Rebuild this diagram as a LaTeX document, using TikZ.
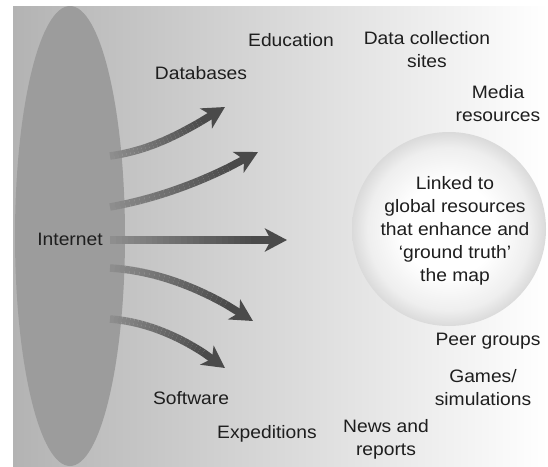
\documentclass[tikz,border=0pt]{standalone}
\usepackage{fontspec}
\setmainfont[FakeStretch=1.07]{Liberation Sans}
\usetikzlibrary{arrows.meta,calc}
\definecolor{bgleft}{HTML}{B3B3B3}
\definecolor{ellfill}{HTML}{9C9C9C}
\definecolor{arrlight}{HTML}{8E8E8E}
\definecolor{arrdark}{HTML}{4A4A4A}
\definecolor{txt}{HTML}{1E1E1E}
\definecolor{rim}{HTML}{DADADA}
\pgfdeclareradialshading{globshade}{\pgfpoint{0bp}{0bp}}{%
  color(0bp)=(white); color(12bp)=(white); color(21bp)=(white!55!rim);
  color(25bp)=(rim); color(50bp)=(rim)}

\newcommand\gradarrow[4]{%
  \path (#1) .. controls (#2) and (#3) .. (#4)
    foreach \k in {0,...,30}{coordinate[pos=\k/30] (q\k)};
  \foreach \k in {0,...,23}{%
    \pgfmathtruncatemacro\m{\k+1}%
    \pgfmathtruncatemacro\c{100-\k*100/24}%
    \draw[shaft, color=arrlight!\c!arrdark] (q\k) -- (q\m);
  }
  \draw[shaft, arrdark, -{Stealth[length=22pt,width=23pt,inset=6pt]}] (q24) -- (q30);
}

\begin{document}
\begin{tikzpicture}[x=1pt,y=-1pt,
  lbl/.style={text=txt, align=center, inner sep=0pt,
    font=\fontsize{18}{23}\selectfont},
  shaft/.style={line width=7.5pt, line cap=butt}]
\useasboundingbox (0,0) rectangle (548,466);
\shade[left color=bgleft, right color=white] (13,6) rectangle (548,466);
\begin{scope}
\clip (13,6) rectangle (548,466);
\fill[ellfill] (70,236) ellipse [x radius=55, y radius=230];
\node[circle, minimum size=194pt, inner sep=0pt, shading=globshade] (glob) at (449,229) {};
\end{scope}

\coordinate (s1) at (110,156); \coordinate (e1) at (225,107);
\coordinate (s2) at (110,207); \coordinate (e2) at (258,152);
\coordinate (s3) at (110,240); \coordinate (e3) at (287,240);
\coordinate (s4) at (110,268); \coordinate (e4) at (253,321);
\coordinate (s5) at (110,319); \coordinate (e5) at (225,368);

\gradarrow{s1}{$(s1)+(42,-6)$}{$(e1)+(-42,26)$}{e1}
\gradarrow{s2}{$(s2)+(50,-9)$}{$(e2)+(-50,28)$}{e2}
\gradarrow{s3}{$(s3)+(60,0)$}{$(e3)+(-60,0)$}{e3}
\gradarrow{s4}{$(s4)+(50,3)$}{$(e4)+(-45,-30)$}{e4}
\gradarrow{s5}{$(s5)+(40,3)$}{$(e5)+(-36,-28)$}{e5}

\node[lbl] (inet) at (70,239) {Internet};
\node[lbl] (edu) at (291,40) {Education};
\node[lbl] (dcs) at (427,50) {Data collection\\sites};
\node[lbl] (db) at (201,73) {Databases};
\node[lbl] (media) at (498,104) {Media\\resources};
\node[lbl] (linked) at (455,231) {Linked to\\global resources\\that enhance and\\‘ground truth’\\the map};
\node[lbl] (peer) at (488,341) {Peer groups};
\node[lbl] (games) at (483,388) {Games/\\simulations};
\node[lbl] (soft) at (191,398) {Software};
\node[lbl] (exped) at (267,434) {Expeditions};
\node[lbl] (news) at (386,439) {News and\\reports};
\end{tikzpicture}
\end{document}
